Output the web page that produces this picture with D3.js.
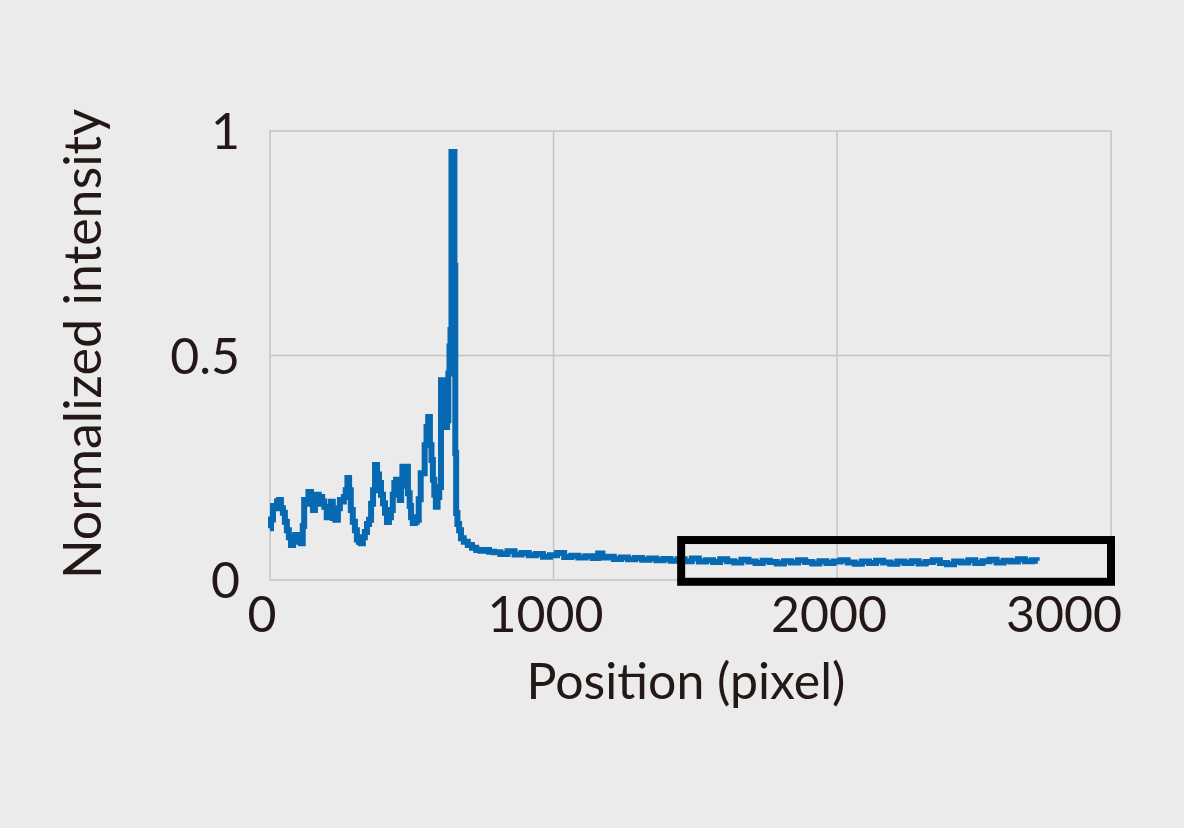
<!DOCTYPE html>
<html>
<head>
<meta charset="utf-8">
<script src="https://cdn.jsdelivr.net/npm/d3@7"></script>
<style>
  html, body { margin: 0; padding: 0; background: #ebebeb; }
  svg { display: block; }
  text { font-family: Lato, "Open Sans", sans-serif; fill: #231815; }
</style>
</head>
<body>
<svg id="chart" width="1184" height="828"></svg>
<script>
// ---- data ----
const positions = [
  0,7,14,21,28,35,42,49,56,63,70,78,85,92,99,106,113,118,123,130,141,148,155,162,169,175,180,188,195,205,
  212,218,225,236,243,250,257,264,270,276,282,288,296,303,310,317,324,331,338,346,353,360,367,374,381,388,
  395,402,409,416,423,430,436,441,448,455,460,465,469,476,483,490,495,500,507,514,521,528,535,542,549,555,
  561,567,572,577,582,588,594,600,606,612,617,622,627,631,635,638,642,649,652,655,658,664,670,677,690,705,
  720,735,750,765,780,
  800,825,850,875,900,925,950,975,1000,1025,1050,1075,1100,1125,1150,1165,1180,1200,1225,1250,1275,1300,
  1325,1350,1375,1400,1425,1450,1475,1500,1525,1550,1575,1600,1625,1650,1675,1700,1725,1750,1775,1800,
  1825,1850,1875,1900,1925,1950,1975,2000,2025,2050,2075,2100,2125,2150,2175,2200,2225,2250,2275,2300,
  2325,2350,2375,2400,2425,2450,2475,2500,2525,2550,2575,2600,2625,2650,2675,2700,2708
];
const intensity = [
  0.115,0.135,0.165,0.160,0.175,0.178,0.160,0.150,0.130,0.111,0.095,0.078,0.090,0.100,0.085,0.095,0.082,0.120,0.178,0.170,
  0.196,0.175,0.156,0.175,0.190,0.170,0.185,0.175,0.163,0.140,0.160,0.174,0.138,0.134,0.160,0.178,0.175,0.185,0.200,0.227,
  0.200,0.156,0.130,0.111,0.090,0.085,0.082,0.095,0.107,0.125,0.134,0.170,0.200,0.256,0.235,0.216,0.190,0.171,0.150,0.129,
  0.140,0.156,0.190,0.216,0.223,0.190,0.178,0.210,0.252,0.245,0.252,0.193,0.165,0.140,0.127,0.130,0.134,0.180,0.238,0.238,
  0.300,0.341,0.363,0.300,0.267,0.223,0.190,0.163,0.185,0.207,0.445,0.445,0.380,0.341,0.356,0.460,0.520,0.557,0.953,0.953,
  0.700,0.283,0.149,0.125,0.111,0.093,0.085,0.078,0.072,0.067,0.065,0.067,0.063,
  0.062,0.058,0.064,0.057,0.060,0.055,0.058,0.052,0.055,0.060,0.051,0.054,0.050,0.053,0.049,0.059,0.050,0.052,0.047,0.050,
  0.046,0.049,0.045,0.048,0.044,0.047,0.043,0.046,0.042,0.048,0.041,0.044,0.040,0.046,0.042,0.039,0.045,0.041,0.038,0.043,
  0.040,0.037,0.042,0.039,0.044,0.040,0.037,0.042,0.038,0.041,0.044,0.039,0.036,0.041,0.038,0.043,0.039,0.036,0.041,0.038,
  0.042,0.037,0.040,0.044,0.038,0.035,0.041,0.039,0.044,0.038,0.042,0.045,0.039,0.043,0.041,0.046,0.042,0.044,0.043
];
const xTicks = [0, 1000, 2000, 3000];
const yTicks = [0, 0.5, 1];
const yTickLabels = ["0", "0.5", "1"];
const xDomain = [0, 2966];
const yDomain = [0, 1];
const highlightX = [1450, 2966];
const highlightY = [-0.004, 0.089];
const xTitle = "Position (pixel)";
const yTitle = "Normalized intensity";

// ---- layout ----
const svg = d3.select("#chart");
const plot = { left: 270, right: 1111, top: 131, bottom: 580 };
const x = d3.scaleLinear().domain(xDomain).range([plot.left, plot.right]);
const y = d3.scaleLinear().domain(yDomain).range([plot.bottom, plot.top]);
const gridColor = "#c4c4c4";

// grid lines
svg.append("g").selectAll("line").data(xTicks.filter(t => t > xDomain[0] && t < xDomain[1]))
  .join("line")
  .attr("x1", d => x(d)).attr("x2", d => x(d))
  .attr("y1", plot.top).attr("y2", plot.bottom)
  .attr("stroke", gridColor).attr("stroke-width", 1.5);
svg.append("g").selectAll("line").data(yTicks.filter(t => t > yDomain[0] && t < yDomain[1]))
  .join("line")
  .attr("x1", plot.left).attr("x2", plot.right)
  .attr("y1", d => y(d)).attr("y2", d => y(d))
  .attr("stroke", gridColor).attr("stroke-width", 1.5);

// plot frame
svg.append("rect")
  .attr("x", plot.left).attr("y", plot.top)
  .attr("width", plot.right - plot.left).attr("height", plot.bottom - plot.top)
  .attr("fill", "none").attr("stroke", gridColor).attr("stroke-width", 1.5);

// line
const data = positions.map((p, i) => [p, intensity[i]]);
const line = d3.line().x(d => x(d[0])).y(d => y(d[1])).curve(d3.curveStep);
svg.append("path").datum(data)
  .attr("d", line)
  .attr("fill", "none")
  .attr("stroke", "#0669b2")
  .attr("stroke-width", 6)
  .attr("stroke-linejoin", "miter");

// highlight box
svg.append("rect")
  .attr("x", x(highlightX[0])).attr("y", y(highlightY[1]))
  .attr("width", x(highlightX[1]) - x(highlightX[0]))
  .attr("height", y(highlightY[0]) - y(highlightY[1]))
  .attr("fill", "none").attr("stroke", "#000").attr("stroke-width", 8);

// y tick labels
svg.append("g").selectAll("text").data(yTicks)
  .join("text")
  .attr("x", 240).attr("y", d => y(d))
  .attr("dy", "0.36em")
  .attr("text-anchor", "end")
  .style("font-size", "50px")
  .text((d, i) => yTickLabels[i]);

// x tick labels
svg.append("g").selectAll("text").data(xTicks)
  .join("text")
  .attr("x", (d, i) => i === xTicks.length - 1 ? plot.right + 11 : x(d) - 8)
  .attr("y", 632)
  .attr("text-anchor", (d, i) => i === xTicks.length - 1 ? "end" : "middle")
  .style("font-size", "50px")
  .text(d => d3.format("d")(d));

// axis titles
svg.append("text")
  .attr("x", 686).attr("y", 699)
  .attr("text-anchor", "middle")
  .style("font-size", "50px")
  .text(xTitle);
svg.append("text")
  .attr("transform", "translate(101,344) rotate(-90)")
  .attr("text-anchor", "middle")
  .style("font-size", "52px")
  .text(yTitle);
</script>
</body>
</html>
